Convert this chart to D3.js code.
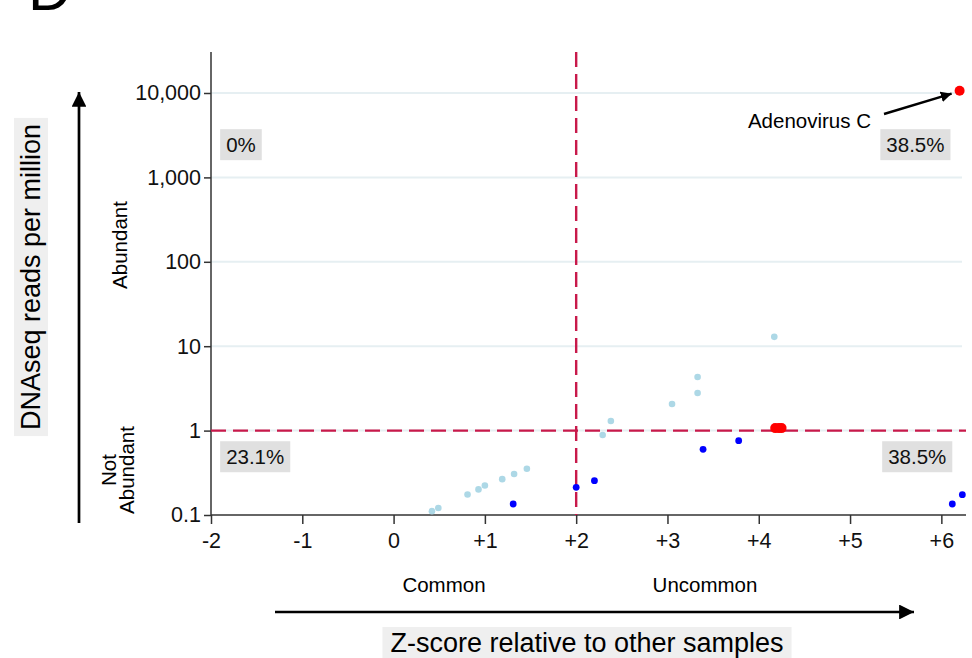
<!DOCTYPE html>
<html>
<head>
<meta charset="utf-8">
<script src="https://cdn.jsdelivr.net/npm/d3@7"></script>
<style>
  body { margin: 0; background: #fff; }
  svg { font-family: "Liberation Sans", Arial, sans-serif; }
</style>
</head>
<body>
<svg width="972" height="658"></svg>
<script>
// light blue points (z-score, reads per million)
const lightZ = [0.42, 0.49, 0.81, 0.93, 1.0, 1.19, 1.32, 1.46, 2.29, 2.38, 3.05, 3.33, 3.33, 4.17];
const lightReads = [0.111, 0.121, 0.175, 0.201, 0.224, 0.266, 0.306, 0.353, 0.887, 1.30, 2.07, 2.79, 4.32, 12.9];
// blue points
const blueZ = [1.31, 2.0, 2.2, 3.39, 3.78, 6.12, 6.23];
const blueReads = [0.135, 0.213, 0.255, 0.60, 0.76, 0.135, 0.174];
// red points
const redZ = [4.18, 4.22, 4.25, 6.2];
const redReads = [1.07, 1.07, 1.07, 10650];

const yTicks = [0.1, 1, 10, 100, 1000, 10000];
const xTicks = [-2, -1, 0, 1, 2, 3, 4, 5, 6];
const quadrantLabels = ["0%", "38.5%", "23.1%", "38.5%"];

const svg = d3.select("svg");
const margin = {left: 211, right: 6, top: 52, bottom: 143};
const W = 972, H = 658;

const x = d3.scaleLinear().domain([-2, 6.27]).range([margin.left, W - margin.right]);
const y = d3.scaleLog().domain([0.1, 30600]).range([H - margin.bottom, margin.top]);

const dashColor = "#c8194a";
const font = "Liberation Sans, Arial, sans-serif";

// gridlines
svg.append("g").selectAll("line")
    .data(yTicks.slice(1))
    .join("line")
    .attr("x1", x(-2)).attr("x2", x(6.27) - 4)
    .attr("y1", d => y(d)).attr("y2", d => y(d))
    .attr("stroke", "#e6eff2")
    .attr("stroke-width", 2);

// axes
const yAxis = svg.append("g")
    .attr("transform", `translate(${x(-2)},0)`)
    .call(d3.axisLeft(y).tickValues(yTicks).tickSize(7).tickPadding(3)
        .tickFormat(d => d >= 1 ? d3.format(",")(d) : String(d)));
const xAxis = svg.append("g")
    .attr("transform", `translate(0,${y(0.1)})`)
    .call(d3.axisBottom(x).tickValues(xTicks).tickSize(9).tickPadding(9)
        .tickFormat(d => d > 0 ? "+" + d : String(d)));

[yAxis, xAxis].forEach(g => {
    g.select(".domain").attr("stroke", "#333").attr("stroke-width", 1.5);
    g.selectAll(".tick line").attr("stroke", "#333").attr("stroke-width", 1.5);
    g.selectAll(".tick text").attr("fill", "#111").style("font-size", "21.5px")
        .style("font-family", font);
});
yAxis.select(".domain").attr("d", `M0,${y(30600)}V${y(0.1)}`);
xAxis.select(".domain").attr("d", `M${x(-2)},0H${x(6.27)}`);

// threshold lines
svg.append("line")
    .attr("x1", x(-2)).attr("x2", x(6.27))
    .attr("y1", y(1)).attr("y2", y(1))
    .attr("stroke", dashColor).attr("stroke-width", 2.4)
    .attr("stroke-dasharray", "15,7");
svg.append("line")
    .attr("x1", x(2)).attr("x2", x(2))
    .attr("y1", y(30600)).attr("y2", y(0.1))
    .attr("stroke", dashColor).attr("stroke-width", 2.4)
    .attr("stroke-dasharray", "15,7");

// points
svg.append("g").selectAll("circle")
    .data(lightZ.map((z, i) => [z, lightReads[i]]))
    .join("circle")
    .attr("cx", d => x(d[0])).attr("cy", d => y(d[1]))
    .attr("r", 3.3).attr("fill", "#add8e6");
svg.append("g").selectAll("circle")
    .data(blueZ.map((z, i) => [z, blueReads[i]]))
    .join("circle")
    .attr("cx", d => x(d[0])).attr("cy", d => y(d[1]))
    .attr("r", 3.4).attr("fill", "#0000ff");
svg.append("g").selectAll("circle")
    .data(redZ.map((z, i) => [z, redReads[i]]))
    .join("circle")
    .attr("cx", d => x(d[0])).attr("cy", d => y(d[1]))
    .attr("r", 5).attr("fill", "#ff0000");

// quadrant percentage boxes: [z, reads, anchor]
const boxSpots = [[-1.9, 2420, "start"], [6.1, 2420, "end"], [-1.9, 0.486, "start"], [6.12, 0.486, "end"]];
boxSpots.forEach(([zx, ry, anchor], i) => {
    const g = svg.append("g");
    const t = g.append("text")
        .attr("x", x(zx) + (anchor === "start" ? 6 : -6))
        .attr("y", y(ry))
        .attr("text-anchor", anchor)
        .attr("dy", "0.35em")
        .style("font-size", "20.5px")
        .attr("fill", "#111")
        .text(quadrantLabels[i]);
    const bb = t.node().getBBox();
    g.insert("rect", "text")
        .attr("x", bb.x - 6).attr("y", bb.y - 4)
        .attr("width", bb.width + 12).attr("height", bb.height + 8)
        .attr("fill", "#e0e0e0");
});

// markers
const defs = svg.append("defs");
defs.append("marker")
    .attr("id", "arr").attr("viewBox", "0 0 10 10")
    .attr("refX", 10).attr("refY", 5)
    .attr("markerWidth", 4.5).attr("markerHeight", 4.5)
    .attr("orient", "auto")
    .append("path").attr("d", "M0,0L10,5L0,10z").attr("fill", "#000");
defs.append("marker")
    .attr("id", "arrBig").attr("viewBox", "0 0 10 10")
    .attr("refX", 10).attr("refY", 5)
    .attr("markerWidth", 5.5).attr("markerHeight", 5.5)
    .attr("orient", "auto")
    .append("path").attr("d", "M0,0L10,5L0,10z").attr("fill", "#000");

// annotation
svg.append("text")
    .attr("x", 871).attr("y", 128)
    .attr("text-anchor", "end")
    .style("font-size", "20.5px")
    .text("Adenovirus C");
svg.append("line")
    .attr("x1", 884).attr("y1", 114)
    .attr("x2", x(6.2) - 8).attr("y2", y(10650) + 3)
    .attr("stroke", "#000").attr("stroke-width", 2.4)
    .attr("marker-end", "url(#arr)");

// panel letter
svg.append("text")
    .attr("x", 28).attr("y", 10)
    .style("font-size", "60px")
    .text("D");

// y-side annotations
svg.append("line")
    .attr("x1", 79).attr("x2", 79)
    .attr("y1", 523).attr("y2", 92)
    .attr("stroke", "#000").attr("stroke-width", 2.7)
    .attr("marker-end", "url(#arrBig)");
svg.append("text")
    .attr("transform", "translate(127,245) rotate(-90)")
    .attr("text-anchor", "middle")
    .style("font-size", "20.5px")
    .text("Abundant");
const na = svg.append("text")
    .attr("transform", "translate(116,470) rotate(-90)")
    .attr("text-anchor", "middle")
    .style("font-size", "20.5px");
na.append("tspan").attr("x", 0).attr("dy", 0).text("Not");
na.append("tspan").attr("x", 0).attr("dy", "0.9em").text("Abundant");

const yl = svg.append("g").attr("transform", "translate(40,277) rotate(-90)");
const ylt = yl.append("text")
    .attr("text-anchor", "middle")
    .style("font-size", "27px")
    .text("DNAseq reads per million");
const ylb = ylt.node().getBBox();
yl.insert("rect", "text")
    .attr("x", ylb.x - 6).attr("y", ylb.y - 2)
    .attr("width", ylb.width + 12).attr("height", ylb.height + 4)
    .attr("fill", "#efefef");

// x-side annotations
svg.append("text").attr("x", 444).attr("y", 592)
    .attr("text-anchor", "middle").style("font-size", "20.5px").text("Common");
svg.append("text").attr("x", 705).attr("y", 592)
    .attr("text-anchor", "middle").style("font-size", "20.5px").text("Uncommon");
svg.append("line")
    .attr("x1", 275).attr("x2", 914)
    .attr("y1", 612).attr("y2", 612)
    .attr("stroke", "#000").attr("stroke-width", 2.7)
    .attr("marker-end", "url(#arrBig)");
const xl = svg.append("g").attr("transform", "translate(587,652)");
const xlt = xl.append("text")
    .attr("text-anchor", "middle")
    .style("font-size", "27px")
    .text("Z-score relative to other samples");
const xlb = xlt.node().getBBox();
xl.insert("rect", "text")
    .attr("x", xlb.x - 8).attr("y", xlb.y - 1)
    .attr("width", xlb.width + 16).attr("height", xlb.height + 2)
    .attr("fill", "#efefef");
</script>
</body>
</html>
